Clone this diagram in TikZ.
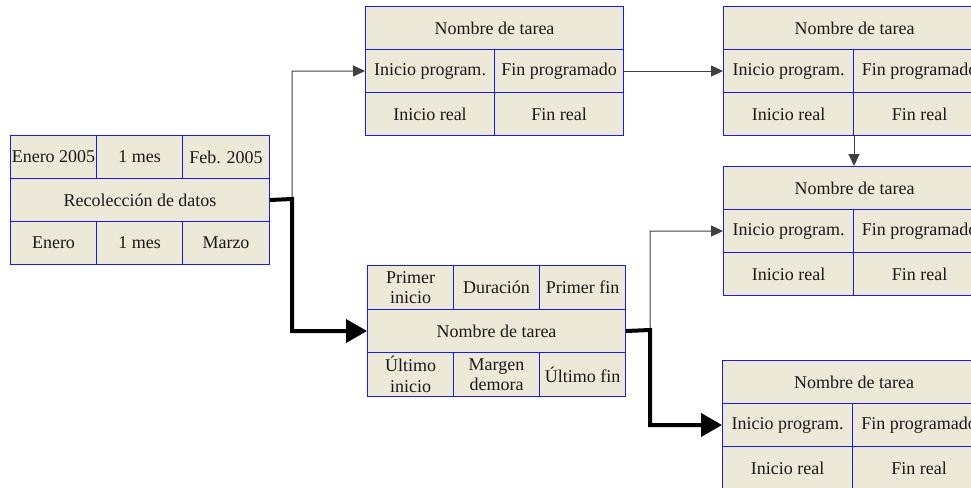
\documentclass[tikz,border=0pt]{standalone}
\usepackage{fontspec}
\setmainfont{Liberation Serif}
\usetikzlibrary{arrows.meta}
\definecolor{cellfill}{RGB}{236,233,216}
\definecolor{cellline}{RGB}{25,25,250}
\tikzset{
  cell/.style={draw=cellline, line width=1pt, fill=cellfill, anchor=north west,
    inner sep=0pt, align=center, minimum height=43pt,
    font=\fontsize{18}{20.5}\selectfont, text=black!90},
  thinlink/.style={draw=black!75, line width=1pt,
    -{Triangle[length=12pt,width=11pt]}},
  thicklink/.style={draw=black, line width=4pt,
    -{Triangle[length=21pt,width=23pt]}},
}
\begin{document}
\begin{tikzpicture}[x=1pt,y=-1pt]
\useasboundingbox (0,0) rectangle (971,487);
\clip (0,0) rectangle (971,487);

% activity: Recolección de datos
\node[cell, minimum width=86pt] (Ltl) at (10,135) {Enero 2005};
\node[cell, minimum width=86pt] (Ltm) at (96,135) {1 mes};
\node[cell, minimum width=87pt] (Ltr) at (182,135) {Feb. 2005};
\node[cell, minimum width=259pt] (L) at (10,178) {Recolección de datos};
\node[cell, minimum width=86pt] (Lbl) at (10,221) {Enero};
\node[cell, minimum width=86pt] (Lbm) at (96,221) {1 mes};
\node[cell, minimum width=87pt] (Lbr) at (182,221) {Marzo};

% task card, top middle
\node[cell, minimum width=258pt] (T1top) at (365,6) {Nombre de tarea};
\node[cell, minimum width=129pt] (T1a) at (365,49) {Inicio program.};
\node[cell, minimum width=129pt] (T1b) at (494,49) {Fin programado};
\node[cell, minimum width=129pt] (T1c) at (365,92) {Inicio real};
\node[cell, minimum width=129pt] (T1d) at (494,92) {Fin real};

% task card, top right
\node[cell, minimum width=262pt] (T2top) at (723,6) {Nombre de tarea};
\node[cell, minimum width=130pt] (T2a) at (723,49) {Inicio program.};
\node[cell, minimum width=132pt] (T2b) at (853,49) {Fin programado};
\node[cell, minimum width=130pt] (T2c) at (723,92) {Inicio real};
\node[cell, minimum width=132pt] (T2d) at (853,92) {Fin real};

% task card, middle right
\node[cell, minimum width=262pt] (T3top) at (723,166) {Nombre de tarea};
\node[cell, minimum width=130pt] (T3a) at (723,209) {Inicio program.};
\node[cell, minimum width=132pt] (T3b) at (853,209) {Fin programado};
\node[cell, minimum width=130pt] (T3c) at (723,252) {Inicio real};
\node[cell, minimum width=132pt] (T3d) at (853,252) {Fin real};

% task card, bottom right
\node[cell, minimum width=263pt] (T4top) at (722,360) {Nombre de tarea};
\node[cell, minimum width=130pt] (T4a) at (722,403) {Inicio program.};
\node[cell, minimum width=133pt] (T4b) at (852,403) {Fin programado};
\node[cell, minimum width=130pt] (T4c) at (722,446) {Inicio real};
\node[cell, minimum width=133pt] (T4d) at (852,446) {Fin real};

% legend-style activity node, bottom middle
\node[cell, minimum width=86pt, minimum height=44pt] (Mtl) at (367,265) {Primer\\inicio};
\node[cell, minimum width=86pt, minimum height=44pt] (Mtm) at (453,265) {Duración};
\node[cell, minimum width=86pt, minimum height=44pt] (Mtr) at (539,265) {Primer fin};
\node[cell, minimum width=258pt] (M) at (367,309) {Nombre de tarea};
\node[cell, minimum width=86pt, minimum height=44pt] (Mbl) at (367,352) {Último\\inicio};
\node[cell, minimum width=86pt, minimum height=44pt] (Mbm) at (453,352) {Margen\\demora};
\node[cell, minimum width=86pt, minimum height=44pt] (Mbr) at (539,352) {Último fin};

% branch points
\coordinate (j1) at (292,199);
\coordinate (j2) at (650,330);

% connectors
\draw[thinlink] (L.east) -- (j1) |- (T1a.west);
\draw[thicklink] (L.east) -- (j1) |- (M.west);
\draw[thinlink] (T1b.east) -- (T2a.west);
\draw[thinlink] (T2c.south east) -- (T2c.south east |- T3top.north);
\draw[thinlink] (M.east) -- (j2) |- (T3a.west);
\draw[thicklink] (M.east) -- (j2) |- (T4a.west);
\end{tikzpicture}
\end{document}
